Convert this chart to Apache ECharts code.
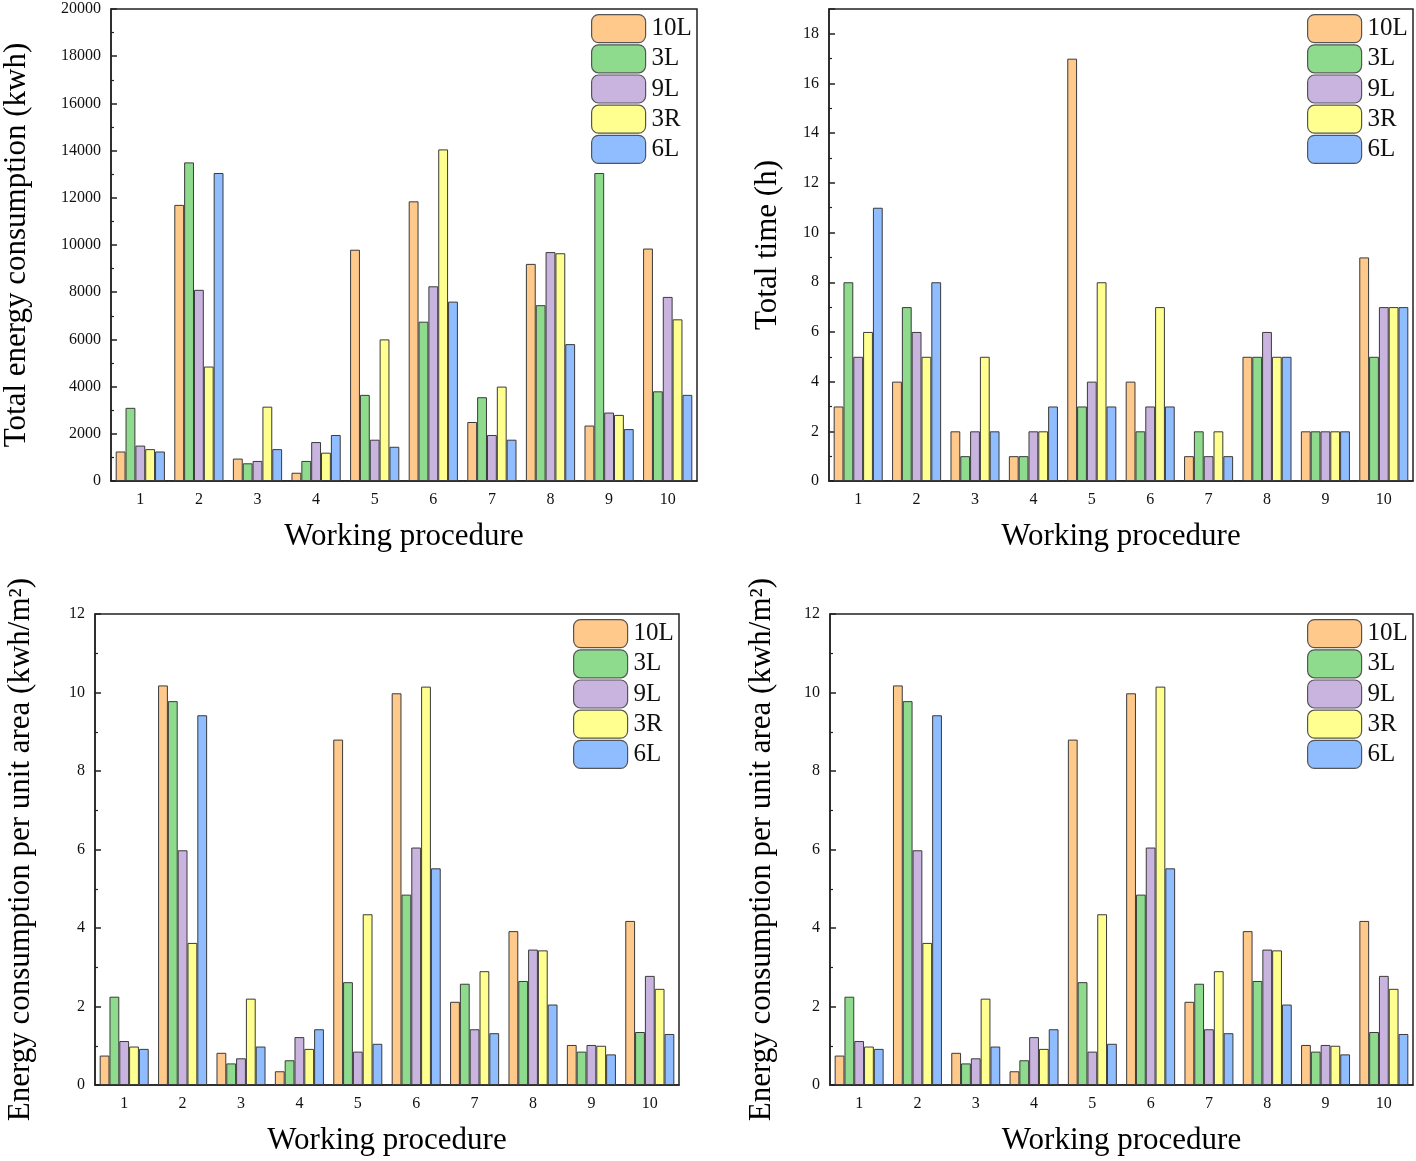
<!DOCTYPE html>
<html>
<head>
<meta charset="utf-8">
<title>Working procedure</title>
<script src="https://cdn.jsdelivr.net/npm/echarts@6/dist/echarts.min.js"></script>
<style>
html, body { margin: 0; padding: 0; background: #fff; }
#chart { width: 1416px; height: 1161px; }
</style>
</head>
<body>
<div id="chart"></div>
<script>
// 工序
var procedures = ['1', '2', '3', '4', '5', '6', '7', '8', '9', '10'];
var seriesNames = ['10L', '3L', '9L', '3R', '6L'];

// 总能耗 (kwh)
var energy10L = [1250, 11700, 950, 350, 9800, 11850, 2500, 9200, 2350, 9850];
var energy3L = [3100, 13500, 750, 850, 3650, 6750, 3550, 7450, 13050, 3800];
var energy9L = [1500, 8100, 850, 1650, 1750, 8250, 1950, 9700, 2900, 7800];
var energy3R = [1350, 4850, 3150, 1200, 6000, 14050, 4000, 9650, 2800, 6850];
var energy6L = [1250, 13050, 1350, 1950, 1450, 7600, 1750, 5800, 2200, 3650];

// 总时间 (h)
var time10L = [3, 4, 2, 1, 17, 4, 1, 5, 2, 9];
var time3L = [8, 7, 1, 1, 3, 2, 2, 5, 2, 5];
var time9L = [5, 6, 2, 2, 4, 3, 1, 6, 2, 7];
var time3R = [6, 5, 5, 2, 8, 7, 2, 5, 2, 7];
var time6L = [11, 8, 2, 3, 3, 3, 1, 5, 2, 7];

// 单位面积能耗 (kwh/m2)
var unit10L = [0.75, 10.18, 0.82, 0.35, 8.8, 9.98, 2.12, 3.92, 1.02, 4.18];
var unit3L = [2.25, 9.78, 0.55, 0.63, 2.62, 4.85, 2.58, 2.65, 0.85, 1.35];
var unit9L = [1.12, 5.98, 0.68, 1.22, 0.85, 6.05, 1.42, 3.45, 1.02, 2.78];
var unit3R = [0.98, 3.62, 2.2, 0.92, 4.35, 10.15, 2.9, 3.43, 1.0, 2.45];
var unit6L = [0.92, 9.42, 0.98, 1.42, 1.05, 5.52, 1.32, 2.05, 0.78, 1.3];

var colors = ['#ffc98c', '#8edb8e', '#c9b4e0', '#ffff8f', '#8fbdff'];
var serif = '"Liberation Serif", "DejaVu Serif", serif';

var panels = [
	{ data: [energy10L, energy3L, energy9L, energy3R, energy6L], max: 20000, interval: 2000,
	  name: 'Total energy consumption (kwh)', nameGap: 79,
	  left: 110, top: 9, width: 587, height: 472 },
	{ data: [time10L, time3L, time9L, time3R, time6L], max: 19, interval: 2,
	  name: 'Total time (h)', nameGap: 46,
	  left: 829, top: 9, width: 584, height: 472 },
	{ data: [unit10L, unit3L, unit9L, unit3R, unit6L], max: 12, interval: 2,
	  name: 'Energy consumption per unit area (kwh/m\u00b2)', nameGap: 59,
	  left: 95, top: 614, width: 584, height: 471 },
	{ data: [unit10L, unit3L, unit9L, unit3R, unit6L], max: 12, interval: 2,
	  name: 'Energy consumption per unit area (kwh/m\u00b2)', nameGap: 53,
	  left: 830, top: 614, width: 583, height: 471 }
];

var grids = [], xAxes = [], yAxes = [], series = [], legends = [];

for (var p = 0; p < panels.length; p++) {
	var pn = panels[p];
	grids.push({
		left: pn.left, top: pn.top, width: pn.width, height: pn.height,
		show: true, borderColor: '#222', borderWidth: 1.5, backgroundColor: '#fff'
	});
	// 主刻度 (类目中心)
	xAxes.push({
		type: 'category', gridIndex: p, data: procedures,
		name: 'Working procedure', nameLocation: 'middle', nameGap: 40,
		nameTextStyle: { fontFamily: serif, fontSize: 31, color: '#000' },
		axisLine: { lineStyle: { color: '#222', width: 1.5 } },
		axisTick: { inside: true, alignWithLabel: true, length: 7, lineStyle: { color: '#222', width: 1.5 } },
		axisLabel: { fontFamily: serif, fontSize: 16, color: '#111', margin: 11 },
		splitLine: { show: false }
	});
	// 次刻度 (类目边界)
	xAxes.push({
		type: 'category', gridIndex: p, data: procedures, position: 'bottom',
		axisLine: { show: false },
		axisTick: { inside: true, length: 3, lineStyle: { color: '#222', width: 1.5 } },
		axisLabel: { show: false },
		splitLine: { show: false }
	});
	yAxes.push({
		type: 'value', gridIndex: p, min: 0, max: pn.max, interval: pn.interval,
		name: pn.name, nameLocation: 'middle', nameGap: pn.nameGap,
		nameTextStyle: { fontFamily: serif, fontSize: 31, color: '#000' },
		axisLine: { show: true, lineStyle: { color: '#222', width: 1.5 } },
		axisTick: { show: true, inside: true, length: 6, lineStyle: { color: '#222', width: 1.5 } },
		minorTick: { show: true, splitNumber: 2, length: 3, lineStyle: { color: '#222', width: 1.2 } },
		axisLabel: {
			fontFamily: serif, fontSize: 16, color: '#111', margin: 10,
			showMaxLabel: pn.max % pn.interval == 0,
			formatter: function(v) { return String(v); }
		},
		splitLine: { show: false }
	});
	for (var s = 0; s < seriesNames.length; s++) {
		series.push({
			name: seriesNames[s], type: 'bar',
			xAxisIndex: p * 2, yAxisIndex: p,
			data: pn.data[s],
			barGap: '0%', barCategoryGap: '16%',
			itemStyle: { color: colors[s], borderColor: '#3a3a3a', borderWidth: 1 }
		});
	}
	legends.push({
		data: seriesNames, orient: 'vertical',
		left: pn.left + pn.width - 106, top: pn.top + 5, padding: 0,
		itemWidth: 54, itemHeight: 28, itemGap: 1,
		icon: 'roundRect',
		itemStyle: { borderColor: '#555', borderWidth: 1.2 },
		textStyle: { fontFamily: serif, fontSize: 25, lineHeight: 26, color: '#111', padding: [0, 0, 0, 1] },
		selectedMode: false
	});
}

var options = {
	backgroundColor: '#fff',
	animation: false,
	color: colors,
	legend: legends,
	grid: grids,
	xAxis: xAxes,
	yAxis: yAxes,
	series: series
};

var myChart = echarts.init(document.getElementById('chart'));
myChart.setOption(options);
</script>
</body>
</html>
